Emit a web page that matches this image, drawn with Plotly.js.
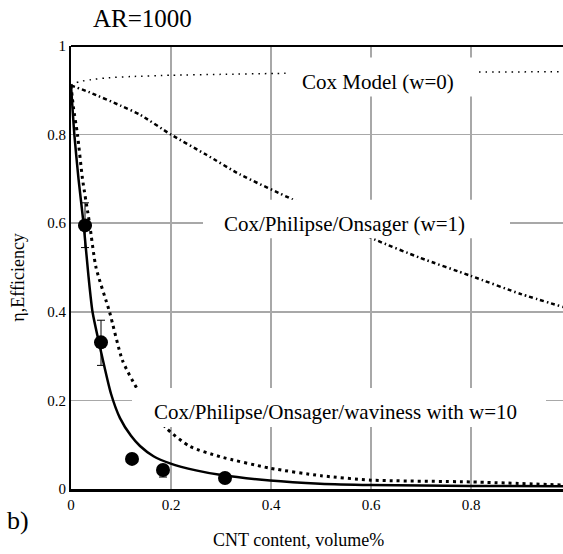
<!DOCTYPE html>
<html>
<head>
<meta charset="utf-8">
<script src="https://cdn.plot.ly/plotly-3.0.1.min.js"></script>
<style>
html,body{margin:0;padding:0;background:#fff;}
#chart{width:563px;height:554px;}
#chart svg text{font-family:"Liberation Serif","Times New Roman","DejaVu Serif",serif !important;}
</style>
</head>
<body>
<div id="chart"></div>
<script>
// Cox model (w=0)
const coxX = [0, 0.005, 0.018, 0.04, 0.071, 0.12, 0.2, 0.3, 0.41, 0.6, 0.8, 0.984];
const coxY = [0.911, 0.915, 0.920, 0.924, 0.928, 0.931, 0.934, 0.936, 0.938, 0.940, 0.941, 0.942];
// Cox/Philipse/Onsager (w=1)
const w1X = [0, 0.038, 0.1, 0.138, 0.2, 0.27, 0.338, 0.444, 0.608, 0.698, 0.8, 0.9, 0.984];
const w1Y = [0.911, 0.895, 0.865, 0.845, 0.80, 0.755, 0.71, 0.653, 0.563, 0.522, 0.481, 0.44, 0.411];
// Cox/Philipse/Onsager/waviness w=10
const w10X = [0, 0.005, 0.013, 0.023, 0.037, 0.05, 0.077, 0.103, 0.133, 0.19, 0.238, 0.298, 0.398, 0.5, 0.6, 0.8, 0.984];
const w10Y = [0.911, 0.86, 0.80, 0.70, 0.60, 0.50, 0.40, 0.29, 0.225, 0.138, 0.096, 0.073, 0.047, 0.03, 0.02, 0.016, 0.009];
// Solid fit curve
const fitX = [0, 0.0067, 0.015, 0.025, 0.035, 0.043, 0.06, 0.08, 0.098, 0.12, 0.138, 0.165, 0.198, 0.25, 0.298, 0.398, 0.498, 0.6, 0.8, 0.984];
const fitY = [0.911, 0.80, 0.70, 0.60, 0.48, 0.40, 0.31, 0.215, 0.16, 0.12, 0.097, 0.074, 0.058, 0.042, 0.032, 0.019, 0.012, 0.009, 0.007, 0.006];
// Experimental points
const expX = [0.028, 0.060, 0.122, 0.184, 0.308];
const expY = [0.595, 0.331, 0.068, 0.043, 0.025];
const expErrPlus = [0.051, 0.05, 0, 0.0, 0];
const expErrMinus = [0.05, 0.052, 0, 0.016, 0];
// Tick values
const xTicks = [0, 0.2, 0.4, 0.6, 0.8];
const xTickText = ['0', '0.2', '0.4', '0.6', '0.8'];
const yTicks = [0, 0.2, 0.4, 0.6, 0.8, 1];
const yTickText = ['0', '0.2', '0.4', '0.6', '0.8', '1'];

const F = 'Liberation Serif';
const traces = [
  {x: coxX, y: coxY, mode: 'lines', line: {color: '#000', width: 1.5, dash: '1.5px,5px', shape: 'spline', smoothing: 0.6}, hoverinfo: 'skip'},
  {x: w1X, y: w1Y, mode: 'lines', line: {color: '#000', width: 2.5, dash: '4px,3px,1.5px,3px', shape: 'spline', smoothing: 0.6}, hoverinfo: 'skip'},
  {x: w10X, y: w10Y, mode: 'lines', line: {color: '#000', width: 3, dash: '3px,4px', shape: 'spline', smoothing: 0.6}, hoverinfo: 'skip'},
  {x: fitX, y: fitY, mode: 'lines', line: {color: '#000', width: 2.5, shape: 'spline', smoothing: 0.6}, hoverinfo: 'skip'},
  {x: expX, y: expY, mode: 'markers', marker: {color: '#000', size: 14},
   error_y: {type: 'data', symmetric: false, array: expErrPlus, arrayminus: expErrMinus, color: '#000', thickness: 1, width: 4}}
];

const layout = {
  width: 563, height: 554,
  margin: {l: 71, r: 0, t: 46, b: 65},
  paper_bgcolor: '#fff', plot_bgcolor: '#fff',
  showlegend: false,
  font: {family: F, color: '#000', size: 15},
  xaxis: {range: [0, 0.984], tickvals: xTicks, ticktext: xTickText, showgrid: true, gridcolor: '#a8a8a8', gridwidth: 1.5,
          zeroline: false, showline: true, linecolor: '#000', linewidth: 3, ticks: '', tickfont: {family: F, size: 15}},
  yaxis: {range: [0, 1], tickvals: yTicks, ticktext: yTickText, showgrid: true, gridcolor: '#a8a8a8', gridwidth: 1.5,
          zeroline: false, showline: true, linecolor: '#000', linewidth: 2, ticks: '', tickfont: {family: F, size: 15}},
  shapes: [
    {type: 'line', xref: 'paper', yref: 'paper', x0: 0, x1: 1, y0: 1, y1: 1, line: {color: '#000', width: 2}},
    {type: 'rect', layer: 'below', xref: 'x', yref: 'y', x0: 0.438, x1: 0.814, y0: 0.886, y1: 0.974, fillcolor: '#fff', line: {width: 0}},
    {type: 'rect', layer: 'below', xref: 'x', yref: 'y', x0: 0.264, x1: 0.878, y0: 0.545, y1: 0.653, fillcolor: '#fff', line: {width: 0}},
    {type: 'rect', layer: 'below', xref: 'x', yref: 'y', x0: 0.122, x1: 0.95, y0: 0.140, y1: 0.228, fillcolor: '#fff', line: {width: 0}},
    {type: 'rect', layer: 'above', xref: 'x', yref: 'y', x0: 0.438, x1: 0.814, y0: 0.886, y1: 0.974, fillcolor: '#fff', line: {width: 0}},
    {type: 'rect', layer: 'above', xref: 'x', yref: 'y', x0: 0.264, x1: 0.878, y0: 0.566, y1: 0.653, fillcolor: '#fff', line: {width: 0}},
    {type: 'rect', layer: 'above', xref: 'x', yref: 'y', x0: 0.122, x1: 0.95, y0: 0.140, y1: 0.228, fillcolor: '#fff', line: {width: 0}}
  ],
  annotations: [
    {text: 'AR=1000', xref: 'paper', yref: 'paper', x: 0.146, y: 1.061, xanchor: 'center', yanchor: 'middle', showarrow: false, font: {family: F, size: 25}},
    {text: 'CNT content, volume%', xref: 'paper', yref: 'paper', x: 0.463, y: -0.115, xanchor: 'center', yanchor: 'middle', showarrow: false, font: {family: F, size: 18}},
    {text: 'η,Efficiency', xref: 'paper', yref: 'paper', x: -0.108, y: 0.479, textangle: -90, xanchor: 'center', yanchor: 'middle', showarrow: false, font: {family: F, size: 18}},
    {text: 'b)', xref: 'paper', yref: 'paper', x: -0.108, y: -0.072, xanchor: 'center', yanchor: 'middle', showarrow: false, font: {family: F, size: 26}},
    {text: 'Cox Model (w=0)', xref: 'x', yref: 'y', x: 0.613, y: 0.919, xanchor: 'center', yanchor: 'middle', showarrow: false, font: {family: F, size: 21}},
    {text: 'Cox/Philipse/Onsager (w=1)', xref: 'x', yref: 'y', x: 0.546, y: 0.598, xanchor: 'center', yanchor: 'middle', showarrow: false, font: {family: F, size: 21}},
    {text: 'Cox/Philipse/Onsager/waviness with w=10', xref: 'x', yref: 'y', x: 0.162, y: 0.174, xanchor: 'left', yanchor: 'middle', showarrow: false, font: {family: F, size: 21}}
  ]
};

Plotly.newPlot('chart', traces, layout, {staticPlot: true, displayModeBar: false});
</script>
</body>
</html>
